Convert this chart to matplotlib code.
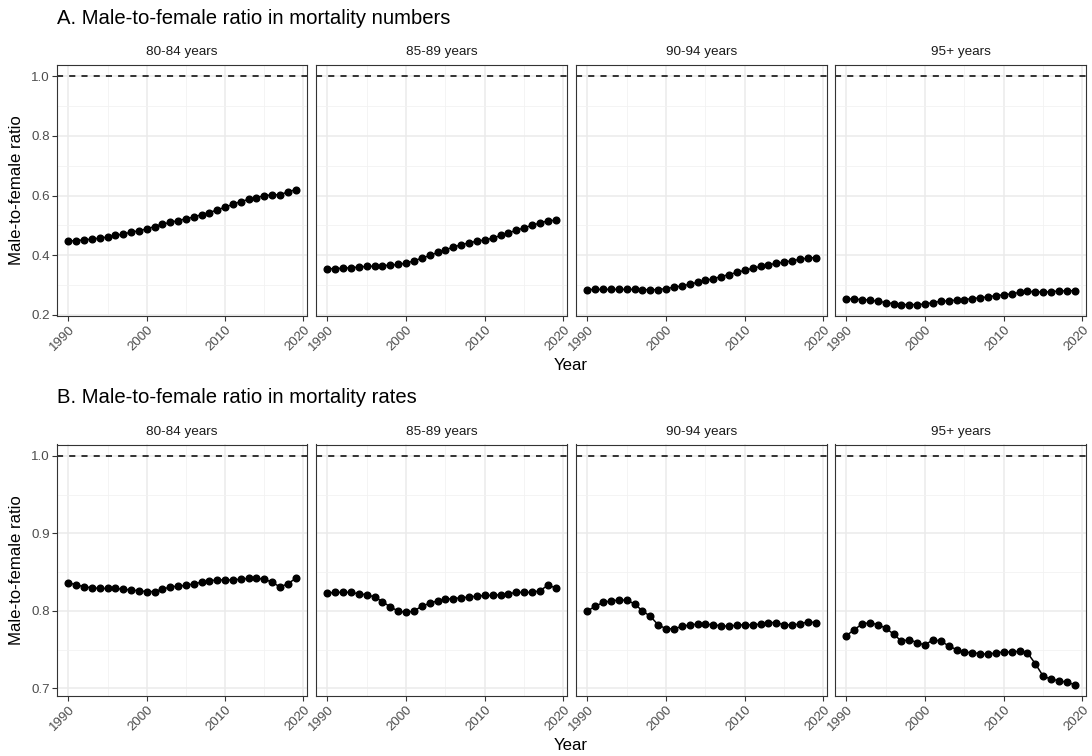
import matplotlib
matplotlib.use("Agg")
import matplotlib.pyplot as plt
from matplotlib.ticker import MultipleLocator, FormatStrFormatter

plt.rcParams['font.family'] = ['Liberation Sans', 'DejaVu Sans']

years = list(range(1990, 2020))
age_groups = ['80-84 years', '85-89 years', '90-94 years', '95+ years']

# A. ratio in mortality numbers
num_80_84 = [0.447, 0.449, 0.451, 0.454, 0.457, 0.461, 0.466, 0.471, 0.477, 0.482,
             0.488, 0.496, 0.504, 0.510, 0.516, 0.522, 0.528, 0.536, 0.543, 0.552,
             0.561, 0.571, 0.580, 0.587, 0.593, 0.600, 0.602, 0.603, 0.612, 0.620]
num_85_89 = [0.354, 0.355, 0.356, 0.358, 0.360, 0.362, 0.363, 0.365, 0.366, 0.369,
             0.373, 0.381, 0.390, 0.399, 0.409, 0.418, 0.427, 0.435, 0.441, 0.447,
             0.451, 0.457, 0.466, 0.475, 0.483, 0.492, 0.500, 0.508, 0.515, 0.517]
num_90_94 = [0.284, 0.285, 0.285, 0.285, 0.285, 0.285, 0.285, 0.284, 0.284, 0.284,
             0.288, 0.292, 0.297, 0.302, 0.309, 0.315, 0.321, 0.328, 0.335, 0.342,
             0.349, 0.356, 0.362, 0.368, 0.372, 0.377, 0.381, 0.386, 0.390, 0.392]
num_95 = [0.254, 0.252, 0.251, 0.249, 0.245, 0.241, 0.237, 0.234, 0.234, 0.234,
          0.236, 0.241, 0.245, 0.247, 0.249, 0.251, 0.254, 0.257, 0.260, 0.264,
          0.267, 0.270, 0.275, 0.278, 0.277, 0.276, 0.277, 0.280, 0.280, 0.281]

# B. ratio in mortality rates
rate_80_84 = [0.836, 0.834, 0.831, 0.830, 0.829, 0.829, 0.829, 0.828, 0.827, 0.826,
              0.825, 0.825, 0.828, 0.831, 0.832, 0.833, 0.835, 0.837, 0.839, 0.840,
              0.840, 0.840, 0.841, 0.842, 0.842, 0.841, 0.837, 0.831, 0.835, 0.842]
rate_85_89 = [0.823, 0.824, 0.824, 0.824, 0.822, 0.821, 0.818, 0.812, 0.805, 0.800,
              0.798, 0.800, 0.806, 0.810, 0.813, 0.815, 0.816, 0.817, 0.818, 0.819,
              0.820, 0.820, 0.821, 0.822, 0.824, 0.824, 0.824, 0.826, 0.833, 0.830]
rate_90_94 = [0.800, 0.806, 0.811, 0.813, 0.814, 0.814, 0.809, 0.800, 0.793, 0.782,
              0.777, 0.777, 0.780, 0.782, 0.783, 0.783, 0.782, 0.781, 0.780, 0.782,
              0.782, 0.782, 0.783, 0.785, 0.785, 0.782, 0.782, 0.783, 0.786, 0.785]
rate_95 = [0.768, 0.776, 0.783, 0.785, 0.782, 0.778, 0.770, 0.761, 0.763, 0.759,
           0.756, 0.763, 0.761, 0.755, 0.750, 0.747, 0.746, 0.745, 0.744, 0.746,
           0.747, 0.747, 0.748, 0.746, 0.732, 0.716, 0.712, 0.710, 0.708, 0.705]

numbers = [num_80_84, num_85_89, num_90_94, num_95]
rates = [rate_80_84, rate_85_89, rate_90_94, rate_95]

W, H = 1092, 756
fig = plt.figure(figsize=(W / 100, H / 100), dpi=100)

panel_x = [(57, 307), (316, 567), (576, 827), (835, 1086)]


def draw_row(series, top, bottom, title, ymajor, yminor):
    lo = min(min(s) for s in series + [[1.0]])
    hi = max(max(s) for s in series + [[1.0]])
    pad = 0.05 * (hi - lo)
    for i, (x0, x1) in enumerate(panel_x):
        ax = fig.add_axes([x0 / W, 1 - bottom / H, (x1 - x0) / W, (bottom - top) / H])
        ax.set_xlim(1990 - 0.05 * 29, 2019 + 0.05 * 29)
        ax.set_ylim(lo - pad, hi + pad)
        ax.xaxis.set_major_locator(MultipleLocator(10))
        ax.xaxis.set_minor_locator(MultipleLocator(5))
        ax.yaxis.set_major_locator(MultipleLocator(ymajor))
        ax.yaxis.set_minor_locator(MultipleLocator(yminor))
        ax.yaxis.set_major_formatter(FormatStrFormatter('%.1f'))
        ax.grid(which='major', color='#EBEBEB', lw=1.1)
        ax.grid(which='minor', color='#F2F2F2', lw=0.6)
        ax.set_axisbelow(True)
        ax.tick_params(which='minor', length=0)
        ax.tick_params(which='major', length=3.3, width=0.8, color='#333333',
                       labelcolor='#4D4D4D', labelsize=9.6, pad=2)
        for sp in ax.spines.values():
            sp.set_color('#333333')
            sp.set_linewidth(0.8)
        ax.axhline(1.0, color='black', lw=1.1, ls=(0, (4, 4)))
        ax.plot(years, series[i], color='black', lw=1.1, marker='o', ms=4.8)
        for lab in ax.get_xticklabels():
            lab.set_rotation(45)
            lab.set_ha('right')
            lab.set_rotation_mode('anchor')
        if i == 0:
            ax.set_ylabel('Male-to-female ratio', fontsize=12.1, labelpad=5)
        else:
            ax.tick_params(axis='y', left=False, labelleft=False)
        ax.set_title(age_groups[i], fontsize=9.7, color='#1A1A1A', pad=7)
    fig.text(57 / W, 1 - (top - 47) / H, title, fontsize=14.6, va='center', ha='left')
    fig.text(571 / W, 1 - (bottom + 49) / H, 'Year', fontsize=12.1, ha='center', va='center')


draw_row(numbers, 65, 316, 'A. Male-to-female ratio in mortality numbers', 0.2, 0.1)
draw_row(rates, 444.5, 696, 'B. Male-to-female ratio in mortality rates', 0.1, 0.05)

fig.savefig('out.png', dpi=100)
